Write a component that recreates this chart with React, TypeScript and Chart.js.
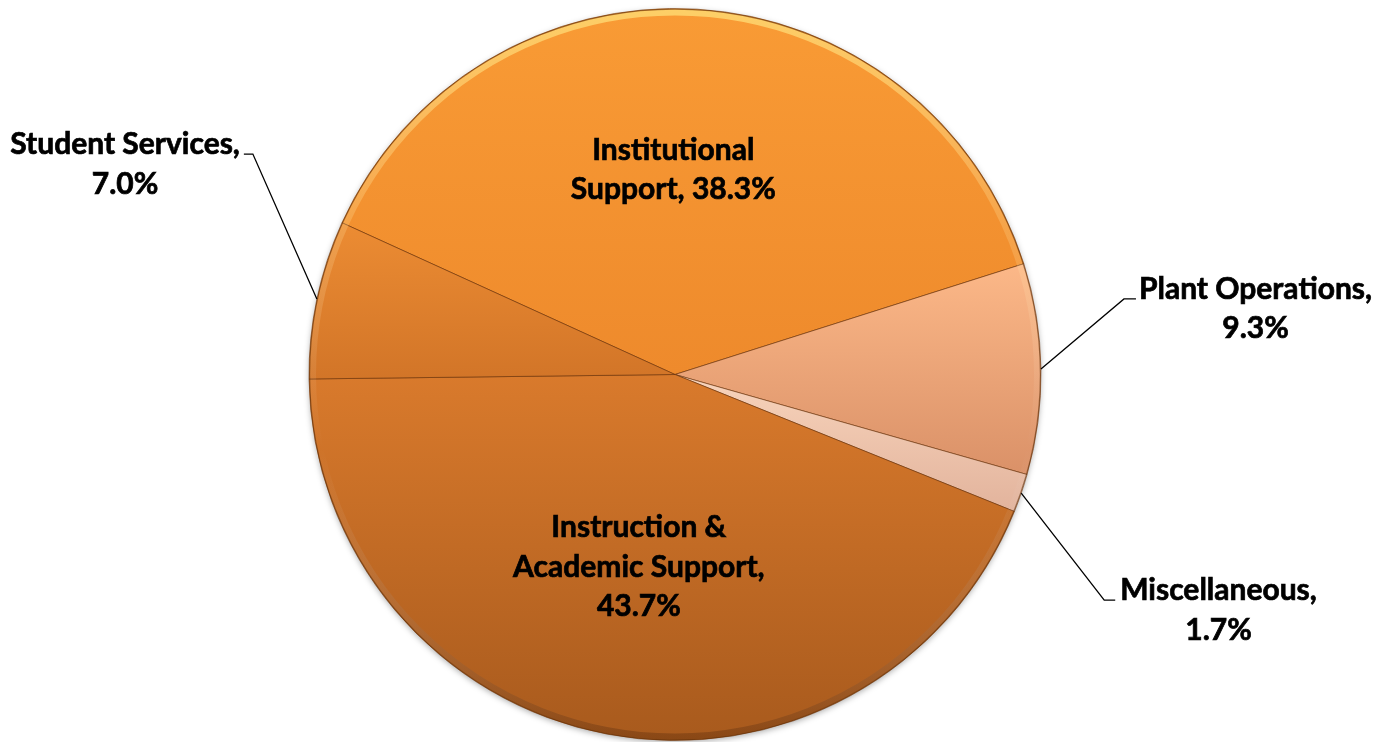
import React, { useEffect, useRef } from "react";
import { Chart, registerables } from "chart.js";

Chart.register(...registerables);

const categories = [
  "Institutional Support",
  "Plant Operations",
  "Miscellaneous",
  "Instruction & Academic Support",
  "Student Services",
];
const values = [38.3, 9.3, 1.7, 43.7, 7.0];
// label text split into lines; "{v}" is replaced by the percentage
const labelTemplates = [
  ["Institutional", "Support, {v}"],
  ["Plant Operations,", "{v}"],
  ["Miscellaneous,", "{v}"],
  ["Instruction &", "Academic Support,", "{v}"],
  ["Student Services,", "{v}"],
];
const topColors = ["#F99B35", "#FCB888", "#F8D4BC", "#D97A2C", "#EC8C33"];
const bottomColors = ["#EE8A2C", "#DA9168", "#E2B39C", "#A85A1D", "#D27528"];

// style: label placement relative to each slice
const labelLayout: any[] = [
  { kind: "inside", r: 0.56, dx: -14 },
  { kind: "outside", side: 1, ex: 83, ey: -70, gap: 15, tick: 12 },
  { kind: "outside", side: 1, ex: 83, ey: 107, gap: 16, tick: 11 },
  { kind: "inside", r: 0.535, dx: 0 },
  { kind: "outside", side: -1, ex: -64, ey: -145, gap: 13, tick: 9 },
];
const FONT = "bold 30px Lato";
const LINE_H = 39.5;

const TWO_PI = Math.PI * 2;
function inRange(a: number, s: number, e: number) {
  let d = (a - s) % TWO_PI;
  if (d < 0) d += TWO_PI;
  return d <= e - s;
}

const shadowPlugin = {
  id: "pieShadow",
  beforeDatasetsDraw(chart: any) {
    const arc = chart.getDatasetMeta(0).data[0];
    if (!arc) return;
    const { x, y, outerRadius } = arc.getProps(["x", "y", "outerRadius"], true);
    const ctx = chart.ctx;
    ctx.save();
    ctx.shadowColor = "rgba(0,0,0,0.35)";
    ctx.shadowBlur = 6;
    ctx.shadowOffsetY = 2;
    ctx.beginPath();
    ctx.arc(x, y, outerRadius - 0.5, 0, TWO_PI);
    ctx.fillStyle = "#C06A22";
    ctx.fill();
    ctx.restore();
  },
};

const gradientPlugin = {
  id: "sliceGradient",
  beforeDatasetsDraw(chart: any) {
    const ctx = chart.ctx;
    chart.getDatasetMeta(0).data.forEach((arc: any, i: number) => {
      const { x, y, startAngle, endAngle, outerRadius } = arc.getProps(
        ["x", "y", "startAngle", "endAngle", "outerRadius"],
        true
      );
      const ys = [y, y + outerRadius * Math.sin(startAngle), y + outerRadius * Math.sin(endAngle)];
      if (inRange(Math.PI / 2, startAngle, endAngle)) ys.push(y + outerRadius);
      if (inRange(-Math.PI / 2, startAngle, endAngle)) ys.push(y - outerRadius);
      const y0 = Math.min(...ys);
      const y1 = Math.max(...ys);
      const g = ctx.createLinearGradient(0, y0, 0, y1);
      g.addColorStop(0, topColors[i]);
      g.addColorStop(1, bottomColors[i]);
      arc.options = { ...arc.options, backgroundColor: g };
    });
  },
};

const rimPlugin = {
  id: "pieRim",
  afterDatasetsDraw(chart: any) {
    const arc = chart.getDatasetMeta(0).data[0];
    if (!arc) return;
    const { x, y, outerRadius } = arc.getProps(["x", "y", "outerRadius"], true);
    const ctx = chart.ctx;
    ctx.save();
    ctx.beginPath();
    ctx.arc(x, y, outerRadius, 0, TWO_PI);
    ctx.clip();
    const g = ctx.createLinearGradient(0, y - outerRadius, 0, y + outerRadius);
    g.addColorStop(0, "rgba(255,225,120,0.75)");
    g.addColorStop(0.3, "rgba(255,220,150,0.25)");
    g.addColorStop(0.6, "rgba(255,255,255,0)");
    g.addColorStop(1, "rgba(80,35,5,0.35)");
    ctx.strokeStyle = g;
    ctx.lineWidth = 6;
    ctx.beginPath();
    ctx.arc(x, y, outerRadius - 4, 0, TWO_PI);
    ctx.stroke();
    ctx.strokeStyle = "rgba(90,45,10,0.5)";
    ctx.lineWidth = 1.2;
    ctx.beginPath();
    ctx.arc(x, y, outerRadius - 0.6, 0, TWO_PI);
    ctx.stroke();
    ctx.restore();
  },
};

const labelPlugin = {
  id: "pieLabels",
  afterDatasetsDraw(chart: any) {
    const ctx = chart.ctx;
    const data = chart.data.datasets[0].data as number[];
    ctx.save();
    ctx.font = FONT;
    ctx.fillStyle = "#000";
    ctx.strokeStyle = "#000";
    const drawText = (t: string, tx: number, ty: number) => {
      ctx.lineWidth = 0.7;
      ctx.fillText(t, tx, ty);
      ctx.strokeText(t, tx, ty);
    };
    chart.getDatasetMeta(0).data.forEach((arc: any, i: number) => {
      const { x, y, startAngle, endAngle, outerRadius } = arc.getProps(
        ["x", "y", "startAngle", "endAngle", "outerRadius"],
        true
      );
      const mid = (startAngle + endAngle) / 2;
      const pct = data[i].toFixed(1) + "%";
      const lines = labelTemplates[i].map((t) => t.replace("{v}", pct));
      const lay = labelLayout[i];
      ctx.textAlign = "center";
      if (lay.kind === "inside") {
        const cx = x + lay.r * outerRadius * Math.cos(mid) + lay.dx;
        const cy = y + lay.r * outerRadius * Math.sin(mid);
        ctx.textBaseline = "middle";
        lines.forEach((l, k) => {
          drawText(l, cx, cy + (k - (lines.length - 1) / 2) * LINE_H);
        });
      } else {
        const px = x + outerRadius * Math.cos(mid);
        const py = y + outerRadius * Math.sin(mid);
        const ex = px + lay.ex;
        const ey = py + lay.ey;
        ctx.lineWidth = 1.3;
        ctx.beginPath();
        ctx.moveTo(px, py);
        ctx.lineTo(ex, ey);
        ctx.lineTo(ex + lay.side * lay.tick, ey);
        ctx.stroke();
        const w1 = ctx.measureText(lines[0]).width;
        const cx = ex + lay.side * (lay.gap + w1 / 2);
        ctx.textBaseline = "alphabetic";
        lines.forEach((l, k) => {
          drawText(l, cx, ey + k * LINE_H);
        });
      }
    });
    ctx.restore();
  },
};

export default function App() {
  const ref = useRef<HTMLCanvasElement | null>(null);
  useEffect(() => {
    if (!ref.current) return;
    const chart = new Chart(ref.current, {
      type: "pie",
      data: {
        labels: categories,
        datasets: [
          {
            data: values,
            backgroundColor: topColors,
            borderColor: "rgba(105,52,14,0.6)",
            borderWidth: 1,
          },
        ],
      },
      options: {
        animation: false,
        responsive: true,
        maintainAspectRatio: false,
        rotation: 294.5,
        layout: { padding: { top: 8, bottom: 1, left: 0, right: 40 } },
        plugins: { legend: { display: false }, tooltip: { enabled: false } },
      },
      plugins: [shadowPlugin, gradientPlugin, rimPlugin, labelPlugin],
    } as any);
    return () => chart.destroy();
  }, []);
  return (
    <div style={{ position: "fixed", left: 0, top: 0, width: 1390, height: 742, background: "#fff" }}>
      <canvas ref={ref} />
    </div>
  );
}
